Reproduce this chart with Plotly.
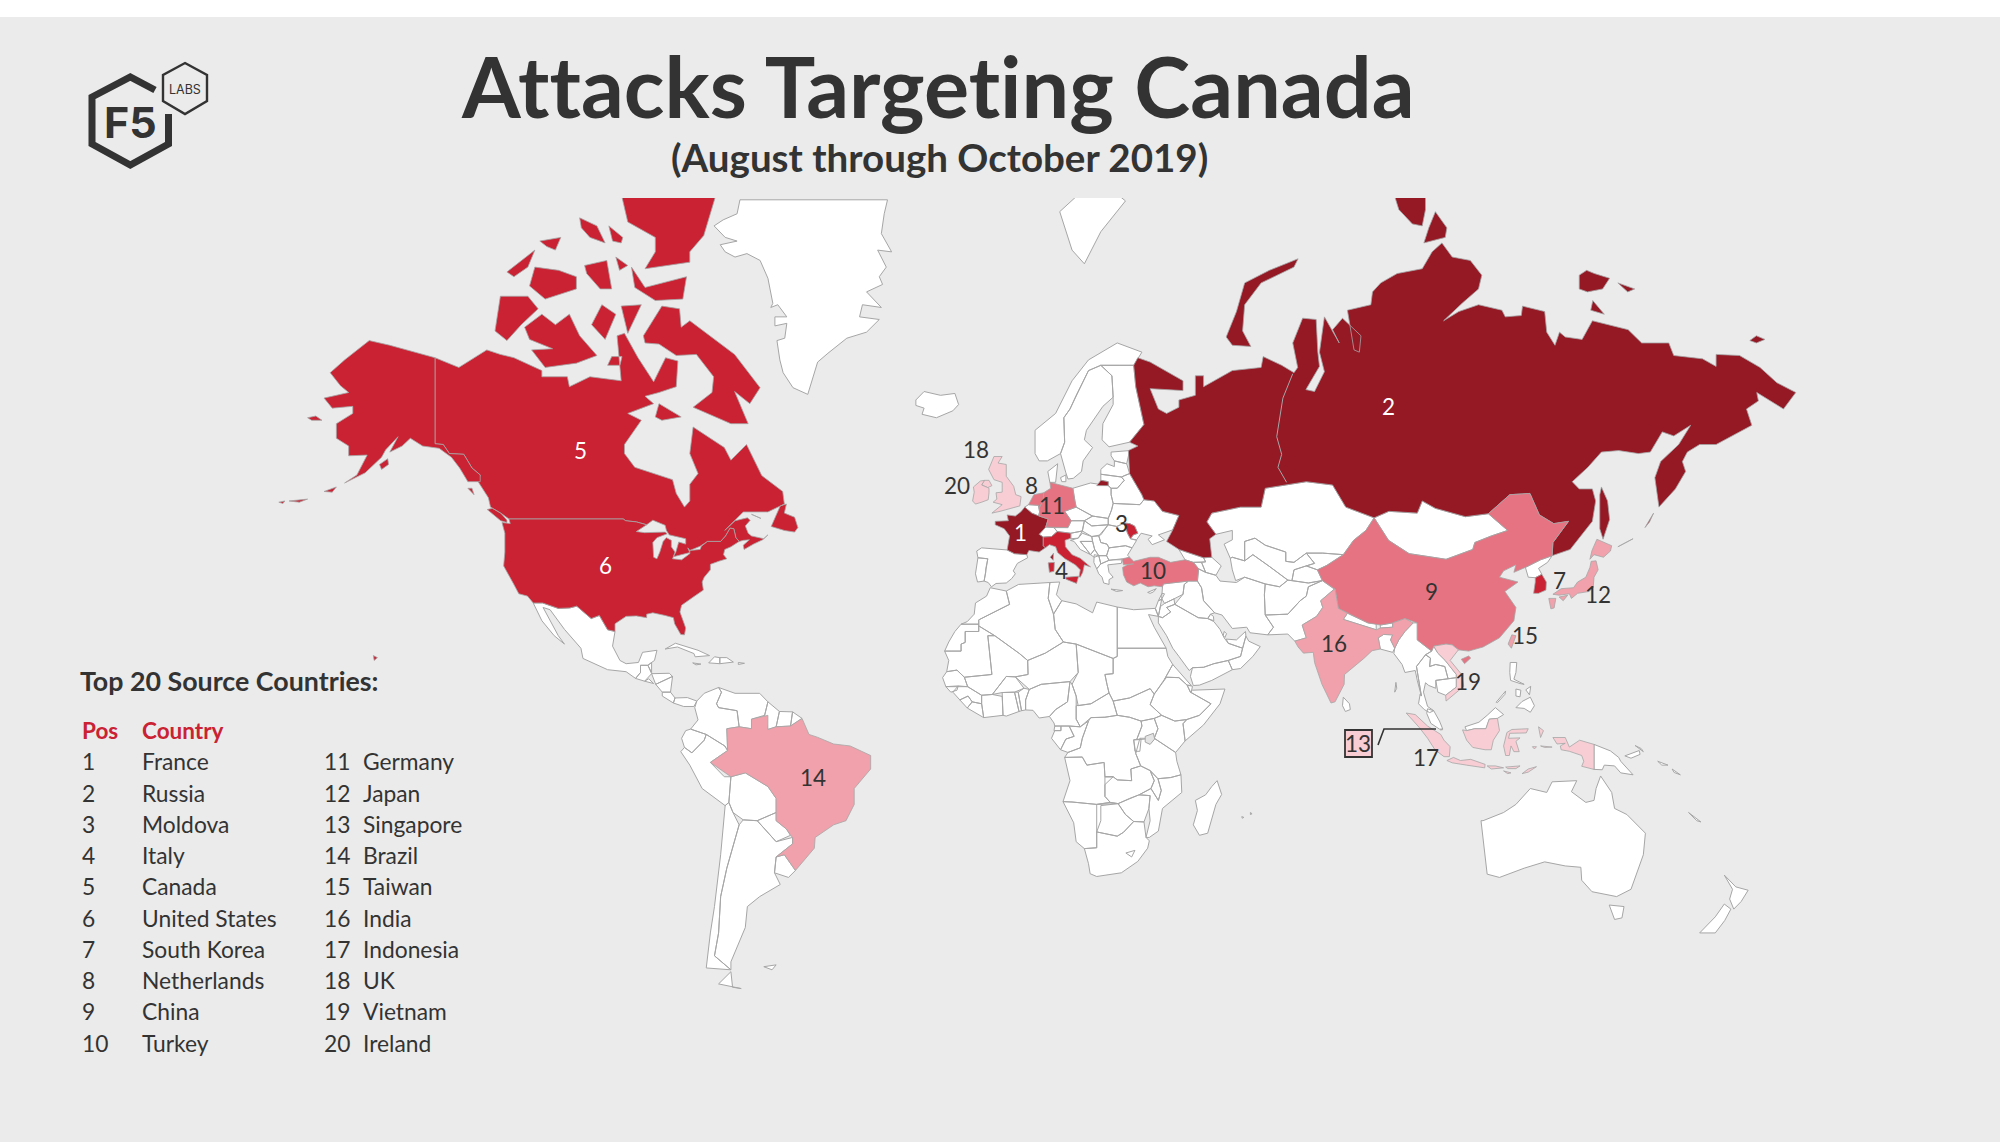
import numpy as np
import plotly.graph_objects as go

# ranking table shown at bottom left
top20 = ["France", "Russia", "Moldova", "Italy", "Canada", "United States", "South Korea",
         "Netherlands", "China", "Turkey", "Germany", "Japan", "Singapore", "Brazil", "Taiwan",
         "India", "Indonesia", "UK", "Vietnam", "Ireland"]
positions = list(range(1, 21))
rank_colors = ["#951825", "#951825", "#CA2233", "#CA2233", "#CA2233", "#CA2233", "#CA2233",
               "#E57381", "#E57381", "#E57381", "#E57381", "#F0A1AB", "#F8CDD4", "#F0A1AB", "#F0A1AB",
               "#F0A1AB", "#F8CDD4", "#F8CDD4", "#F8CDD4", "#F8CDD4"]

# country outlines as (lon, lat) rings
france = [[(2.5,51),(4.2,50),(6,49.5),(8.2,49),(7.6,47.6),(6,46.3),(7,45.8),(7,44.2),(7.5,43.8),(6,43),(3.5,43.3),(3,42.5),(0,42.7),(-1.8,43.4),(-1.2,46),(-2.5,47.3),(-4.7,48),(-4.7,48.6),(-1.5,48.7),(-1.8,49.7),(0.2,49.5),(1.5,50.2)],
          [(8.7,42),(9.5,42.8),(9.4,41.4)]]
russia = [[(30,69.7),(33,69.3),(41,67.5),(41,66.5),(33,66.7),(35,64.5),(37,64),(40,64.7),(40,65.5),(44,66),(44,68),(46,68),(46,66.9),(53,68.5),(60,68.8),(60.5,69.8),(65,69),(68,68.3),(68.9,68.8),(67.7,71),(70.1,73),(73.4,72.9),(73.8,70.2),(74.2,68.9),(70.9,66.6),(73,66.4),(75.4,68.4),(74.2,70.2),(75.4,73.1),(79,71),(77.4,72.1),(79.8,73),(84.3,71.6),(83.9,70.2),(82.6,70.4),(81,73.6),(86.7,74),(87.1,74.9),(89.1,75.5),(93.1,76.1),(99.2,76.4),(101.6,77.4),(104,77.9),(106.5,77.1),(110.9,76.9),(113.7,76),(112.9,75.1),(108.9,74.1),(104.4,72.8),(108.1,73.5),(112.9,74),(118.6,73.6),(119.4,73.1),(123.3,73.2),(123.6,73.9),(129,73.5),(129.5,71.9),(131.5,70.8),(132.6,71.9),(134,71.5),(138.1,71.3),(140.6,72.8),(149.3,72.1),(152.6,71),(159.2,71),(160.4,69.9),(167.4,69.6),(170.7,68.9),(170.7,70),(176.4,69.9),(181.4,68.8),(185.5,67.3),(190.1,66.3),(187.1,64.5),(180.6,66.3),(181,65.4),(178.1,64.5),(179.4,62.6),(170.7,60.2),(166.7,60.2),(163.7,59.2),(162.5,57.9),(163.3,56.5),(160.8,53.9),(156.8,51),(155.8,55.6),(157.2,57.9),(161.6,60.2),(164.5,62.6),(160.4,61.3),(157.6,61.8),(154.7,59.2),(151.8,59),(147,59.4),(142.8,59.2),(139.5,57.1),(135.7,55),(137.4,53.9),(140.6,53.9),(141.4,52),(140.6,48.6),(135.2,43.5),(130.8,42.3),(131,44.8),(134.8,48.6),(131.2,48.2),(127.7,49.7),(125.4,53.2),(120.5,53),(115.3,49.9),(109.7,49.4),(102.4,50.8),(99.2,52),(98,50),(91.1,50.3),(87.5,49.2),(80.6,51),(77.4,54.5),(71,55),(61,54),(60,51),(55,51),(48,50),(46.8,48.5),(49,46.3),(47.5,45.5),(48,42),(46,41.9),(40,43.5),(37,45),(38.5,47.1),(40,49.6),(36,50.3),(34,52),(31.5,52.2),(31,53),(28,56.2),(27.7,59.4),(30,60),(28,60.5),(31.5,62.7),(29.5,66.9),(29,69)],
          [(51.5,71.5),(53,70.8),(57.5,70.7),(55.5,72),(56,74),(60,75.5),(68,76.5),(69,77),(62,76.3),(56,75.5),(54,73.5),(52,72)],
          [(92,80.5),(100,80.5),(100,79.6),(99.2,78.8),(96.8,78.9),(93.5,79.6)],
          [(102.4,79.5),(105.2,78.7),(104.8,78.2),(99.6,77.9),(100.8,78.7)],
          [(137.4,76),(139.2,76.3),(141.1,76.1),(144.8,75.8),(143.1,75.1),(139.4,74.9),(137.4,75.1)],
          [(146.8,75.5),(150.9,75.1),(149.2,74.9)],
          [(140.2,73.6),(143.5,73.3),(140.7,74.3)],
          [(178.9,71.2),(180.5,71.6),(182.6,71.3),(180.5,71)],
          [(142.8,54.2),(144.3,52),(144.8,48.9),(143.2,45.4),(142.4,47.3),(142.4,53)],
          [(20,54.4),(22.8,54.4),(22.8,55),(21,55.2)],
          [(146.8,44),(150.5,45.5),(148.3,44.5)],
          [(153.4,47.5),(155.5,50),(154.5,48.5)]]
russia_seam = [(67.7,68.2),(65.3,65.7),(63.8,61.2),(65,58.9),(64.1,57.1),(66.2,54.9)]
moldova = [[(26.7,48.3),(28,48.2),(29.2,47.8),(30,46.5),(28.9,46.2),(28.2,45.5),(27.5,46.5)]]
italy = [[(7,44.2),(7,45.8),(9,45.9),(10.4,46.8),(13.7,46.5),(13.7,45.6),(12.3,45.2),(12.4,44),(14,42.5),(16,41.8),(18.5,40.1),(17,40.5),(16.6,39),(16,38),(15.7,38.1),(16,39.5),(14.8,40.5),(12.3,41.7),(10.5,42.9),(10,44),(8.5,44.4),(7.5,43.8)],
         [(12.5,38),(15.6,38.2),(15.1,36.7),(12.5,37.6)],
         [(8.2,40.9),(9.7,41),(9.6,39.2),(8.5,39)]]
canada = [[(-141,69.7),(-135.2,68.8),(-128.4,70.4),(-125.1,70),(-121.8,69.7),(-115,68.5),(-115,67.9),(-108.8,67.9),(-108.3,66.9),(-103.3,67.9),(-95.7,67.5),(-96.7,71.6),(-94.9,71.8),(-91.6,69.7),(-87.8,67.4),(-84.9,69.7),(-81.9,69.4),(-82.3,66.9),(-86.5,66.3),(-89.9,65.9),(-87.8,65.1),(-94.1,64),(-90.8,63.2),(-94.9,60.2),(-94.9,59),(-92.4,57.1),(-83.2,55.3),(-82.3,53.2),(-80.3,51),(-79,52),(-79,54.6),(-77,56.2),(-79,59),(-78.2,62.4),(-70.6,59.8),(-69,58.1),(-65.2,60.2),(-61.5,55.9),(-56.4,53.5),(-56,51.5),(-60,50.2),(-66,50.2),(-70.5,47),(-68,48.7),(-65,49.2),(-64.3,48.8),(-65.5,47.8),(-64.8,46.5),(-64,46),(-61,45.5),(-60,46.2),(-61.3,45.3),(-63.5,44.5),(-65.8,43.5),(-66,44.3),(-64.5,45.3),(-66,45.2),(-67,45),(-67.8,45.7),(-68.3,47.3),(-69.2,47.4),(-70.3,46),(-71.5,45),(-74.7,45),(-76.5,44.1),(-79,43.3),(-79.5,43.8),(-79,42.9),(-83,42.1),(-82.4,43),(-81.7,44.9),(-80,44.5),(-80,45.5),(-84,46.2),(-84.7,47),(-85,47.9),(-88,48.8),(-89.5,48),(-92,48.5),(-94.6,48.7),(-95.2,49),(-123,49),(-125,50),(-127.5,51),(-128,52.5),(-130,54.5),(-130.5,55),(-130,56),(-132,57),(-134,58.9),(-137.5,59),(-139,60.2),(-141,60.3)],
          [(-123.5,48.4),(-125,48.7),(-128.3,50.6),(-127,50.8),(-125,50),(-123.5,48.8)],
          [(-132,54),(-131.5,53),(-133,54)],
          [(-59.2,47.7),(-58.4,49),(-57,51.2),(-55.5,51.5),(-56,50),(-53.5,49.3),(-52.7,47.5),(-53.5,46.7),(-56,47)],
          [(-90.3,71.6),(-85.8,73.9),(-81.5,73.7),(-81.1,72.3),(-79,72.8),(-74.9,71.8),(-68.1,70),(-61.9,66.8),(-64.4,65.1),(-68.1,66.4),(-64.8,62.8),(-69,62.8),(-78.2,64.7),(-73.6,66.3),(-73.2,67.9),(-77.4,70),(-82.3,69.9),(-86.5,70.9),(-89.9,71)],
          [(-119.2,72.3),(-115,73.3),(-111.7,72.5),(-108.3,73.3),(-105.8,71.6),(-101.6,69.9),(-106.6,69.2),(-114.2,68.8),(-117.5,70.4),(-112.4,70.5),(-118,71.3)],
          [(-125.1,74.6),(-118.4,74.6),(-115.9,73.7),(-120,72.5),(-123.5,71.2),(-126.4,72)],
          [(-118,75.3),(-116.7,76.5),(-110.9,76.3),(-106.6,75.9),(-106.6,75.1),(-114.2,74.4)],
          [(-96.6,81),(-71.4,81),(-75.6,78.3),(-79,77.4),(-79,76.8),(-89.9,76.4),(-87.4,77.4),(-87.4,78.2),(-94.1,79)],
          [(-93.2,76.5),(-89.9,75.2),(-79.8,75.9),(-80.7,74.4),(-87.4,74.3),(-92.4,75.2)],
          [(-95.7,73.9),(-90.8,74),(-94.1,71.8)],
          [(-102.9,72.5),(-100.4,74),(-97,73.3),(-99.6,71.3)],
          [(-123.5,76.2),(-116.7,77.5),(-118.4,76.5),(-121.8,75.9)],
          [(-115.5,78),(-110.4,78.2),(-111.7,77.5),(-113.8,77.7)],
          [(-105.8,79.2),(-101.6,78.8),(-99.6,77.9),(-103.3,78.2),(-105.4,78.7)],
          [(-98.7,78.8),(-95.3,78.2),(-95.7,77.9),(-97.8,78)],
          [(-104.6,76.6),(-99.2,76.9),(-98,75.1),(-100.8,75.1),(-104.1,76.1)],
          [(-97,77.1),(-94.1,76.6),(-96.1,76.3)],
          [(-87.4,63.6),(-86.5,65.1),(-81.1,63.6),(-85.8,63.2)],
          [(-99,69),(-96,69),(-95.5,69.8),(-98,69.8)],
          [(-64,49.8),(-62,49.2),(-61.7,49.1)]]
usa = [[(-123,49),(-95.2,49),(-94.6,48.7),(-92,48.5),(-89.5,48),(-92,46.8),(-90,46.6),(-87.5,46.6),(-85,46.7),(-84.5,46.4),(-87,45.7),(-88,44.8),(-87.8,42),(-87,41.7),(-86.3,43),(-85.5,45),(-84.7,45.7),(-83.5,45.2),(-83.5,44),(-82.6,43),(-83,42),(-83.2,41.7),(-81,41.5),(-79,42.7),(-79,43.3),(-76.5,43.5),(-76.2,44.1),(-74.7,45),(-71.5,45),(-70.3,46),(-69.2,47.4),(-68.3,47.3),(-67.8,45.7),(-67,45),(-69,44),(-70.5,43.5),(-70.8,42.5),(-70,41.7),(-72,41.2),(-74,40.6),(-74,39.5),(-75.5,38),(-76,37),(-75.7,35.3),(-78,33.9),(-81,32),(-81.4,30.5),(-80,26.8),(-80.3,25.2),(-81.2,25.3),(-82.7,27.8),(-83,29.2),(-85,29.7),(-88,30.3),(-89.5,30),(-89.5,29.2),(-92,29.6),(-94.5,29.5),(-97.2,27.8),(-97.2,26),(-99,26.4),(-101,29.7),(-103,29),(-106.5,31.8),(-108.2,31.4),(-111,31.3),(-114.8,32.5),(-117.1,32.5),(-118.5,34),(-120.6,34.5),(-122,36.8),(-124.3,40.3),(-124,43),(-124,46.5),(-124.7,48.4),(-122.7,48.2)],
       [(-141,69.7),(-141,60.3),(-139,60.2),(-137.5,59),(-134,58.9),(-132,57),(-130,56),(-130,55),(-133,55),(-135,57),(-137,58.5),(-140,59.7),(-144,60),(-147,61),(-149,60),(-152,59.2),(-150,61.2),(-153,59.5),(-154,58.5),(-158,56.3),(-163,54.8),(-160,56),(-157.5,58.8),(-162,58.7),(-162,60),(-165,61),(-165,62.8),(-161,64),(-161,64.8),(-166,64.6),(-168,65.7),(-162,66.3),(-164,67),(-166.5,68.3),(-163,69.5),(-157,71.2),(-152,70.8),(-146,70.2)],
       [(-154.5,57.5),(-152.5,58.3),(-152.3,57.5),(-154,56.8)],
       [(-172,63.5),(-170,63.7),(-168.5,63.2),(-171,63.2)],
       [(-168,53.5),(-165,54.2),(-166,53.4)],
       [(-176.5,52),(-172,52.3),(-174,51.8)],
       [(-179,51.8),(-177.5,52),(-178,51.6)],
       [(-156,20.2),(-155,19.7),(-155.8,19)]]
south_korea = [[(126.7,37.9),(128.3,38.6),(129.4,37),(129.3,35.3),(127.5,34.6),(126.3,34.6),(126.7,37)]]
netherlands = [[(3.4,51.4),(4.7,53),(7.1,53.3),(7,52.2),(6,50.8),(5.8,51.3)]]
china = [[(73.7,39.5),(76,40.4),(80,42.5),(82.5,45.2),(85.5,47),(87.5,49.2),(91,45.2),(96,42.7),(105,41.6),(111.5,43.5),(112,44.8),(116,46),(120,47),(115.3,49.9),(120.5,53),(125.4,53.2),(127.7,49.7),(131.2,48.2),(134.8,48.6),(131,44.8),(130.8,42.3),(128,41.5),(124.3,40),(121.5,39),(122,40.5),(119,39.3),(118,38),(122.5,37),(119.3,35),(122,31.5),(121.5,28.5),(118,24.5),(114,22.3),(110.5,21.3),(108,21.6),(106.5,22.8),(105,23),(102,22.5),(101.5,21.3),(98,24),(98,28),(95,29),(92,28),(89,27.5),(86,28),(81,30.2),(78.8,31.3),(78,35.5),(74.9,37.3)],
         [(108.7,19.3),(110.5,20.1),(111,19.6),(109.5,18.2)]]
turkey = [[(26.2,41.7),(28,42),(29,41.2),(33,42),(35,42),(38,41),(41.5,41.5),(43.5,41),(44.8,39.7),(44.5,37.2),(42.3,37.2),(38,36.8),(36.2,36.6),(36,36),(34,36.2),(32.5,36),(30.6,36.8),(29,36.2),(27.3,37),(26.5,38.5),(26.3,40),(27.5,40.5),(29,40.7),(26.5,40.5)]]
germany = [[(7.1,53.3),(8.8,54),(8.6,54.9),(11,54.5),(14.2,54),(14.7,52),(15,51),(12.2,50.3),(13.8,48.7),(13,47.5),(7.6,47.6),(8.2,49),(6,49.5),(6.1,50.2),(6,50.8),(7,52.2)]]
japan = [[(131,34.4),(133,35.6),(136,35.8),(137,37),(139,38),(140,40),(140.3,41.2),(141.5,41.3),(142,39.5),(141,38),(140.8,35.8),(139.8,35),(137,34.6),(135.5,33.5),(135,34.5),(132.5,34.2)],
         [(140,41.6),(140.5,43.3),(141.7,45.4),(145.3,44.2),(145,43.2),(143.3,42),(141,42.5)],
         [(130,33.5),(131.7,33.5),(131.3,31.4),(130.5,31.2)],
         [(132.5,33.8),(134.6,34.2),(133.5,33)]]
singapore = [[(103.6,1.2),(104.1,1.45),(104.1,1.2)]]
brazil = [[(-60,5),(-60,1.3),(-58,2),(-54.5,2.2),(-51.7,4.2),(-50,0),(-48,-0.7),(-44,-2.5),(-40,-3),(-35,-5.5),(-35,-9),(-39,-14),(-39,-18),(-41,-22),(-44,-23),(-48.5,-26),(-48.7,-28.5),(-53.3,-33.5),(-56,-30),(-58,-30.5),(-54,-27.5),(-54,-26),(-54.5,-25.5),(-55.5,-24),(-58,-22),(-58,-16.5),(-60,-13.5),(-65.5,-10),(-69,-11),(-74,-7.3),(-69.8,-4.2),(-70,1.5),(-67,2),(-64,1.5),(-64,4)]]
taiwan = [[(120.1,23),(121,25.2),(122,25),(120.9,22)]]
india = [[(68.2,23.7),(71,24.5),(70,27.5),(73.5,29.5),(75,31.5),(74.5,33),(77.8,35.5),(78,35.5),(78.8,31.3),(81,30.2),(80,28.8),(88,26.4),(89,26.8),(92,27),(92,28),(95,29),(97,28),(95,26),(93.5,24),(92.5,22),(91.5,24),(92,25.2),(89.8,25.3),(88.5,24.5),(89,21.8),(87,21.4),(85,19.5),(80.3,15.5),(80.2,13),(78,8.5),(77,8.2),(74.8,13),(73,18.5),(72.7,21),(70.3,20.8),(69,22.3)]]
indonesia = [[(95.3,5.6),(97.5,5.2),(100.5,2.2),(103.7,0),(104.5,-1.5),(106,-3.2),(105.8,-5.8),(104.5,-5.8),(102.3,-4),(100.5,-1),(98.5,1.8)],
             [(105.2,-6.8),(106.8,-6),(108.5,-6.8),(111,-6.5),(114.5,-7.8),(114.4,-8.7),(110,-8),(106.5,-7.4)],
             [(109,1.2),(110,1),(112,1.5),(114.7,1.5),(115.5,4),(117.5,4.2),(118,1),(116.5,-1.5),(116,-4),(114.5,-4),(111.5,-3.4),(110,-1.5)],
             [(119.5,-5.5),(119,-3),(119.8,0.5),(121,1.3),(125,1.5),(124.5,0.4),(120.5,0.3),(120.2,-1),(123,-0.9),(122,-1.8),(122.8,-4.5),(121.5,-4.5),(120.8,-3),(120.4,-5.5)],
             [(115,-8.2),(117,-8.2),(119,-8.7),(116,-9)],
             [(119.5,-8.5),(123,-8.2),(122,-8.9),(120,-8.9)],
             [(123.5,-10.2),(125,-9),(127,-8.4),(125,-9.8)],
             [(119,-9.5),(120.8,-10),(120,-10.2)],
             [(127.5,2),(128.7,1),(128,-0.8),(127.7,0.8)],
             [(128,-3),(130.8,-3.3),(129,-3.4)],
             [(126,-3.2),(127,-3.2),(126.5,-3.8)],
             [(131,-0.8),(134,-0.8),(135,-3.3),(137.5,-1.5),(141,-2.6),(141,-9.1),(138,-8.3),(138.5,-7),(138,-5.5),(135,-4.4),(133,-4),(132.8,-3),(134,-2.3),(132,-2.5)]]
uk = [[(-5.5,50),(-3.5,50.3),(1.3,51.2),(1.6,52.7),(0.3,53),(-0.2,54.3),(-2,55.8),(-2,57.5),(-4,57.7),(-3,58.6),(-5,58.6),(-6.3,56.8),(-5,55.3),(-3,54.9),(-3,53.4),(-4.5,53.3),(-4.3,52.3),(-5.2,51.8),(-3,51.4)],
      [(-5.5,54.4),(-6.2,55.2),(-7.3,55.2),(-8,54.5),(-6.5,54.1)]]
vietnam = [[(102,22.5),(105,23),(106.5,22.8),(108,21.6),(106,19),(108.8,15.5),(109.3,12.5),(107,10.4),(105,8.7),(104.9,10.2),(106,11),(107.5,12.3),(107.5,15.5),(104.8,19),(103,20.8)]]
ireland = [[(-6.2,53.3),(-6.2,54),(-6.5,54.1),(-8,54.5),(-7.3,55.2),(-8.3,55.1),(-10,54.2),(-9.8,53.4),(-10.2,52),(-9.5,51.5),(-8,51.8),(-6.4,52.2)]]
ranked_shapes = [france, russia, moldova, italy, canada, usa, south_korea, netherlands, china, turkey,
                 germany, japan, singapore, brazil, taiwan, india, indonesia, uk, vietnam, ireland]

# everything outside the top 20 stays white
greenland = [(-66.8,80.05),(-67.5,79.4),(-70.9,79.1),(-73.1,78.8),(-70.4,78.2),(-67.5,78),(-71.6,77.8),(-70.4,77.4),(-68,77.1),(-65.1,77.3),(-61.9,76.9),(-60,75.8),(-58.8,74.1),(-59.3,73.8),(-57.6,74),(-55.4,73.1),(-58.3,73.1),(-58.3,72.4),(-55.4,72.6),(-55.9,71.4),(-57.8,71.2),(-57.1,69.5),(-56.3,68.3),(-53.9,66.8),(-50.3,66.1),(-49.1,67.8),(-47.9,69.3),(-45.4,70.1),(-41.8,71.1),(-40.8,71.4),(-36,71.9),(-32.9,72.9),(-37.7,73.1),(-37,74),(-32.4,73.8),(-36,74.9),(-32.1,75.4),(-32.9,75.9),(-31.2,76.5),(-33.3,77.5),(-29.9,77.4),(-32.4,78.4),(-31.7,79.4),(-30.9,80.05)]
americas_other = [
    greenland,
    [(-117.1,32.5),(-114.8,32.5),(-111,31.3),(-108.2,31.4),(-106.5,31.8),(-103,29),(-101,29.7),(-99,26.4),(-97.2,26),(-97.8,22.5),(-96,19),(-94.5,18.2),(-91.5,18.5),(-90.5,21),(-87,21.5),(-87.6,19),(-88.3,18.5),(-89.2,17.8),(-91,17.8),(-91,16),(-92.2,14.5),(-94.5,16.2),(-99,16.7),(-105,19.5),(-105.5,22),(-109.5,26.5),(-113,31),(-114.7,31.5),(-111,25),(-109.5,23),(-112,25),(-115,28.5)],
    [(-92.2,14.5),(-91,16),(-91,17.8),(-89.2,17.8),(-88.3,15.7),(-90,13.8)],
    [(-89.2,17.8),(-88.3,18.5),(-88.3,16)],
    [(-88.3,15.7),(-84,15.8),(-83.2,15),(-87.3,13)],
    [(-87.3,13),(-83.2,15),(-83.7,11),(-85.7,11)],
    [(-90,13.8),(-89,14.4),(-87.8,13.2)],
    [(-85.7,11),(-83.7,11),(-82.6,9.5),(-83,8.2),(-85.7,10)],
    [(-83,8.2),(-82.6,9.5),(-79.6,9.6),(-77.3,8.7),(-78,7.3),(-80.5,7.3)],
    [(-85,21.8),(-82.5,23.2),(-77,21.5),(-74.2,20.2),(-77.7,19.9),(-78,20.7),(-82,22.3)],
    [(-74.4,18.4),(-73,19.9),(-71.7,19.7),(-71.7,18.2)],
    [(-71.7,19.7),(-70,19.7),(-68.4,18.6),(-71.7,18.2)],
    [(-78.3,18.4),(-76.3,18.1),(-77.5,17.9)],
    [(-67.2,18.5),(-65.7,18.3),(-67.2,18)],
    [(-77.3,8.7),(-75.5,10.7),(-72,12.2),(-71.3,11),(-72.5,8),(-72,7),(-67.5,6.2),(-67,2),(-70,1.5),(-69.8,-4.2),(-70.5,-3),(-75,0),(-78.8,1.4),(-77,3.8),(-77.8,7)],
    [(-71.3,11),(-72,12.2),(-68,10.7),(-62,10.7),(-60,8.5),(-60.8,5),(-64,4),(-64,1.5),(-67,2),(-67.5,6.2),(-72,7),(-72.5,8)],
    [(-60,8.5),(-57.2,6),(-58,2),(-60,1.3),(-60.8,5)],
    [(-57.2,6),(-54,5.9),(-54.5,2.2),(-58,2)],
    [(-54,5.9),(-51.7,4.2),(-54.5,2.2)],
    [(-80,1),(-78.8,1.4),(-75,0),(-75.5,-1.5),(-78.5,-4.8),(-80.3,-3.4),(-81,-1)],
    [(-81.2,-4.5),(-80.3,-3.4),(-78.5,-4.8),(-75.5,-1.5),(-75,0),(-70.5,-3),(-69.8,-4.2),(-74,-7.3),(-70.6,-11),(-69,-11),(-69.5,-17.5),(-70.4,-18.3),(-76,-14),(-79,-8)],
    [(-69,-11),(-65.5,-10),(-60,-13.5),(-58,-16.5),(-58,-20),(-62.6,-22),(-66,-21.8),(-68.5,-20),(-69.5,-17.5)],
    [(-70.4,-18.3),(-69.5,-17.5),(-68.5,-20),(-67,-23),(-70,-33),(-71.5,-39),(-72,-46),(-73,-50),(-69,-52.3),(-75,-52),(-74,-46),(-73,-41),(-71.5,-30)],
    [(-69,-52.6),(-68.6,-55),(-66.5,-55.2),(-72,-54.5)],
    [(-66,-21.8),(-62.6,-22),(-58,-27),(-54,-26),(-54,-27.5),(-58,-30.5),(-58.4,-34),(-57,-36.5),(-62,-39),(-65,-41),(-65.5,-45),(-69,-51),(-69,-52.3),(-73,-50),(-72,-46),(-71.5,-39),(-70,-33),(-67,-23)],
    [(-62.6,-22),(-58,-20),(-58,-22),(-55.5,-24),(-54.5,-25.5),(-58,-27)],
    [(-58,-30.5),(-56,-30),(-53.3,-33.5),(-55,-35),(-58.4,-34)],
    [(-61,-51.8),(-58,-51.5),(-59,-52.3)],
]
europe_other = [
    [(-24,65.5),(-22,66.4),(-18,66),(-14.5,66.2),(-13.6,65),(-15,64.3),(-19,63.5),(-22.5,63.9),(-22,64.6),(-24,64.9)],
    [(11,79.5),(14,77.5),(17,76.7),(21,78.5),(27,80),(20,81)],
    [(-1.8,43.4),(0,42.7),(3,42.5),(3.2,41.9),(0.7,40.8),(-0.3,39.3),(0.2,38.7),(-0.7,37.7),(-2,36.8),(-4.5,36.7),(-5.6,36),(-6.4,36.9),(-7.4,37.2),(-7,39),(-7,39.7),(-6.5,41.7),(-8.9,41.9),(-9.2,43.2),(-8,43.8)],
    [(-8.9,41.9),(-6.5,41.7),(-7,39.7),(-7,39),(-7.4,37.2),(-9,37),(-9.5,38.7)],
    [(2.5,51),(3.4,51.4),(5.8,51.3),(6.1,50.2),(5.8,49.5),(4.2,50)],
    [(6,46.3),(7.6,47.6),(9.6,47.5),(10.4,46.8),(9,45.9),(7,45.8)],
    [(9.6,47.5),(13,47.5),(13.8,48.7),(17,48.7),(16.5,46.9),(13.7,46.5),(10.4,46.8)],
    [(8.6,54.9),(8.1,56.5),(10.5,57.6),(10.3,56),(10,54.9)],
    [(11.2,55.6),(12.5,56),(12.5,55),(11.5,55)],
    [(5,59),(5,62),(10,64),(14,67.5),(18,69.5),(25,71),(31,70.2),(29,69),(25.5,69),(21,69),(18,68.5),(15,66),(13.5,64.5),(12,63.5),(12.2,60.5),(11.2,59),(8,58),(6,58)],
    [(11.2,59),(12.2,60.5),(12,63.5),(13.5,64.5),(15,66),(18,68.5),(21,69),(23.7,68),(24,65.8),(21.5,64.8),(17.5,62),(17,60.8),(19,59.8),(16.7,58),(16.3,56.5),(14.3,55.5),(13,55.4),(12.5,56.3)],
    [(21,69),(25.5,69),(29,69),(29.5,66.9),(31.5,62.7),(28,60.5),(23,59.9),(21.3,60.8),(21.5,62.8),(24,65),(24,65.8),(23.7,68)],
    [(23.5,59.2),(28,59.4),(27.3,57.6),(24.3,58),(23.5,58.7)],
    [(21,56.8),(22.5,57.6),(24.3,57.2),(24.3,58),(27.3,57.6),(28,56.2),(26,55.7),(21,56.1)],
    [(21,56.1),(26,55.7),(26.7,55.2),(25,54),(23.5,54),(22.8,54.4),(22.8,55),(21,55.2)],
    [(28,56.2),(31,53),(31.5,52.2),(30.5,51.4),(24,51.6),(23.5,53),(23.5,54),(25,54),(26.7,55.2),(26,55.7)],
    [(14.2,54),(18.5,54.8),(22.8,54.4),(23.5,54),(23.5,53),(24,51.6),(23.6,50.5),(22.8,49.1),(19,49.5),(15,51),(14.7,52)],
    [(24,51.6),(30.5,51.4),(31.5,52.2),(34,52),(36,50.3),(40,49.6),(38.5,47.1),(35,46.2),(36.5,45.3),(33.5,44.4),(32.5,45.4),(33.5,46),(30.8,46.5),(29.7,45.3),(28.2,45.5),(28.9,46.2),(30,46.5),(29.2,47.8),(28,48.2),(26.7,48.3),(24.9,47.7),(22.8,48),(22.8,49.1),(23.6,50.5)],
    [(12.2,50.3),(15,51),(19,49.5),(17,48.7),(13.8,48.7)],
    [(17,48.7),(19,49.5),(22.8,49.1),(22.8,48),(18.8,47.8)],
    [(16.5,46.9),(17,48.7),(18.8,47.8),(22.8,48),(21,46.2),(18.8,45.9)],
    [(20.5,46),(22.8,48),(24.9,47.7),(26.7,48.3),(27.5,46.5),(28.2,45.5),(29.7,45.2),(28.6,43.8),(27,44.2),(23,43.8),(22.5,44.5),(21,44.8)],
    [(23,43.8),(27,44.2),(28.6,43.8),(27.5,42.4),(28,42),(26.2,41.5),(24,41.5),(23,41.4),(22.4,42.3)],
    [(13.7,46.5),(16.5,46.9),(15.5,45.6),(13.7,45.5)],
    [(13.6,45.2),(15.5,45.6),(16.5,46.5),(18.8,45.9),(19,45),(16,45),(18.5,42.5),(16,43.5),(14.5,45)],
    [(16,45),(19,45),(19.5,43.5),(18.5,42.5)],
    [(18.8,45.9),(20.5,46),(21,44.8),(22.5,44.5),(23,43.8),(22.4,42.3),(20.5,42.3),(19.5,43.5),(19,45)],
    [(18.5,42.5),(19.5,43.5),(20.5,42.3),(19.4,42)],
    [(19.4,42.5),(20.5,42.3),(21,40.7),(20,39.7),(19.3,41)],
    [(20.5,42.3),(22.4,42.3),(23,41.4),(21,40.7)],
    [(20,39.7),(21,40.7),(23,41.4),(24,41.5),(26.2,41.7),(26,40.8),(23.5,40.5),(22.7,40.5),(23,39),(24,38),(23,37.5),(23,36.5),(21.7,36.8),(21.3,38),(20.5,38.7)],
    [(23.5,35.5),(26.3,35.2),(24.8,35)],
    [(32.4,34.8),(34.5,35.6),(33.8,34.9),(33,34.6)],
]
asia_other = [
    [(40,43.5),(46,41.9),(46.5,41.1),(43.5,41),(41.5,41.5)],
    [(43.5,41),(45.5,41),(46.5,39),(44.8,39.7)],
    [(46,41.9),(48,42),(50.3,40.3),(49,38.4),(46.5,39),(45.5,41),(46.5,41.1)],
    [(46.8,48.5),(48,50),(55,51),(60,51),(61,54),(71,55),(77.4,54.5),(80.6,51),(87.5,49.2),(85.5,47),(82.5,45.2),(80,42.5),(75,42.8),(71,42.8),(68,41),(66,41.2),(66,43),(61,44.3),(58.5,45.6),(56,45),(56,41.3),(53,42),(52.5,41.8),(51,44.5),(53,45.3),(53,47),(49,46.3)],
    [(56,45),(58.5,45.6),(61,44.3),(66,43),(66,41.2),(68,41),(71,42.8),(73,40.8),(71,40.3),(68,39.5),(67.5,37.3),(66.5,37.4),(62,40.2),(58,42.5),(56,41.3)],
    [(52.5,41.8),(53,42),(56,41.3),(58,42.5),(62,40.2),(66.5,37.4),(64.5,36),(61,36.6),(56,38),(53.8,37.3),(53,39.5)],
    [(71,42.8),(75,42.8),(80,42.5),(76,40.4),(73.7,39.5),(71,40.3),(73,40.8)],
    [(68,39.5),(71,40.3),(73.7,39.5),(74.9,37.3),(71.5,36.8),(67.5,37.3)],
    [(61,36.6),(64.5,36),(66.5,37.4),(67.5,37.3),(71.5,36.8),(74.9,37.3),(71.5,36),(71,34),(69.5,33),(66.5,30),(61,29.8),(60.8,34.3)],
    [(61,29.8),(66.5,30),(69.5,33),(71,34),(71.5,36),(74.9,37.3),(77.8,35.5),(74.5,33),(75,31.5),(73.5,29.5),(70,27.5),(71,24.5),(68.2,23.7),(66.5,25.4),(61.6,25.2),(63,27)],
    [(44.5,37.2),(44.8,39.7),(46.5,39),(49,38.4),(50,37.2),(54,36.9),(56,38),(61,36.6),(60.8,34.3),(61,29.8),(63,27),(61.6,25.2),(57.3,25.7),(56.5,27),(53,26.7),(50.5,29.8),(48.7,30.3),(46,33),(45.5,35.8)],
    [(42.3,37.2),(44.5,37.2),(45.5,35.8),(46,33),(48.7,30.3),(47.7,30),(47,29),(44.7,29.2),(39,32.2),(41,34.4),(41.3,36.5)],
    [(36,36),(36.2,36.6),(38,36.8),(42.3,37.2),(41.3,36.5),(41,34.4),(38.8,33.4),(36.5,32.4),(35.8,33.5)],
    [(36.5,32.4),(38.8,33.4),(39,32.2),(37,31.5),(38,30.5),(36,29.2),(35,29.5),(35.5,31.7)],
    [(34.3,31.3),(35,33),(35.8,33.3),(35.5,31.7),(35,29.5)],
    [(35,33),(35.9,34.6),(36.5,34.5),(35.8,33.3)],
    [(35,29.5),(36,29.2),(38,30.5),(37,31.5),(39,32.2),(44.7,29.2),(47,29),(48.5,28.3),(50,26.5),(51,24.5),(52,23.2),(55.5,22),(55,20),(52,19),(48.5,18.2),(46,17.3),(43.3,17.2),(42.5,16.5),(40,20),(38.5,22),(37,25),(35,28)],
    [(42.8,15),(43.3,17.2),(46,17.3),(48.5,18.2),(52,19),(53,16.7),(48,14),(45,12.8),(43.5,12.7)],
    [(52,19),(55,20),(55.5,22),(56.3,24.9),(57,23.7),(59.8,22.4),(58,20),(55,17),(53,16.7)],
    [(51.5,24.2),(54,24),(56.2,26),(56.3,24.9),(55.5,22),(52,23.2)],
    [(50.8,25),(51,26),(51.6,25.5),(51.2,24.6)],
    [(47.7,30),(48.4,29.5),(48.5,28.5),(47,29)],
    [(87.5,49.2),(91.1,50.3),(98,50),(99.2,52),(102.4,50.8),(109.7,49.4),(115.3,49.9),(120,47),(116,46),(112,44.8),(111.5,43.5),(105,41.6),(96,42.7),(91,45.2)],
    [(80,28.8),(81,30.2),(86,28),(88,27.8),(88,26.4)],
    [(89,27.5),(92,28),(92,27),(89,26.8)],
    [(88.5,24.5),(89.8,25.3),(92,25.2),(91.5,24),(92.5,22),(92,21),(89,21.8)],
    [(80,9.7),(81.5,8),(81.7,6.5),(80.5,6),(79.8,7.5)],
    [(92.5,22),(93.5,24),(95,26),(97,28),(98,28),(98,24),(101.5,21.3),(100,20.4),(97.8,17.5),(98.5,13),(99,10),(98,14),(97.5,16.5),(95,16),(94.3,18),(92.3,20.7)],
    [(97.8,17.5),(100,20.4),(101.2,19.6),(101,17.5),(102.5,18),(104.7,17.5),(105.5,14.4),(102.5,14),(102.5,12),(100.8,12.7),(100,13.4),(99.5,11),(100.5,7.3),(102,6.2),(101,5.7),(99.7,6.5),(98.3,8),(98.7,10.5),(99,10),(98.5,13)],
    [(100,20.4),(101.5,21.3),(102,22.5),(103,20.8),(104.8,19),(107.5,15.5),(107.5,14.7),(105.5,14.4),(104.7,17.5),(102.5,18),(101,17.5),(101.2,19.6)],
    [(102.5,14),(105.5,14.4),(107.5,14.7),(107.5,12.3),(106,11),(104.9,10.2),(103,11)],
    [(100.5,6.7),(102,6.2),(103.4,3.5),(104.2,1.4),(103.4,1.4),(101.3,2.9),(100.3,5.5)],
    [(109.6,2),(111.3,2.7),(113,3.2),(115,5),(117,7),(119,5.2),(117.5,4.2),(115.5,4),(114.7,1.5),(112,1.5),(110,1)],
    [(141,-2.6),(145,-4.3),(147,-6),(147.5,-7),(150.5,-10.5),(147.5,-10),(146,-8.2),(143.5,-8),(143,-9.2),(141,-9.1)],
    [(148.5,-5.6),(152,-4.2),(152.2,-5.2),(150,-6.2)],
    [(151,-2.9),(153,-4.5),(152.5,-3.7)],
    [(156.5,-7),(159,-8),(157.5,-8)],
    [(160,-9),(162,-10.5),(160.5,-9.9)],
    [(120.5,16),(120.6,18.5),(122.2,18.5),(122,16),(121.5,14.3),(124,13),(123,13.2),(120.7,14)],
    [(122,7),(123.5,8.6),(125.5,9.7),(126.5,7.5),(125.5,5.8),(124,6.8)],
    [(117.2,8.4),(119.5,11.3),(119.3,10.4),(117.5,8.3)],
    [(122,11.8),(123.2,11.5),(123,9.8),(122,10)],
    [(124.4,11.6),(125.6,12.5),(125.3,10.3)],
    [(124.3,40),(128,41.5),(130.8,42.3),(129.7,41),(127.5,39.8),(128.3,38.6),(126.7,37.9),(125,38)],
    [(92.8,13.5),(93,12),(92.5,11)],
]
africa_other = [
    [(-5.9,35.8),(-2,35.1),(-1.2,32.2),(-5,30.5),(-8.7,28.7),(-8.7,27.7),(-13,27.7),(-11.5,28.3),(-9.8,30),(-9.5,32.5),(-6.8,34)],
    [(-13,27.7),(-8.7,27.7),(-8.7,26),(-12,26),(-12,23.4),(-13,23),(-13,21.3),(-17,21.3),(-16,23.5),(-14.5,26)],
    [(-17,21.3),(-13,21.3),(-13,23),(-12,23.4),(-12,26),(-8.7,26),(-8.7,27.3),(-4.8,25),(-6.5,25),(-5.5,15.5),(-12.2,14.8),(-14,16.6),(-16.5,16.2),(-16,19)],
    [(-8.7,28.7),(-5,30.5),(-1.2,32.2),(-2,35.1),(1,36.5),(8.6,36.9),(8.2,33.5),(9.5,30),(9.9,26.5),(11.9,23.5),(7.5,20.8),(3.2,19),(1.2,20.7),(-4.8,25),(-8.7,27.3)],
    [(8.6,36.9),(11,37),(10.2,34.3),(11.5,33),(9.5,30),(8.2,33.5)],
    [(9.9,26.5),(9.5,30),(11.5,33),(15,32.3),(19,30.3),(20,32.7),(25,31.6),(25,20),(24,19.5),(15,23),(11.9,23.5)],
    [(25,31.6),(29,31),(34.2,31.3),(35,29.5),(32.6,29.9),(34,27),(36.9,22),(25,22)],
    [(24,19.5),(25,20),(25,22),(36.9,22),(37.3,20),(38.5,18),(36.5,14.3),(34,10.5),(33,11.9),(28,9.5),(24,8.7),(23,10.8),(22.5,13),(22,15.5),(24,15.7)],
    [(24,8.7),(28,9.5),(33,11.9),(34,10.5),(33,7.8),(35.8,5),(34,4.2),(30.8,3.5),(28,4.5),(25,5)],
    [(36.5,14.3),(38.5,18),(43,12.7),(42,12.8),(40,14.7),(37,14.8)],
    [(34,10.5),(36.5,14.3),(37,14.8),(40,14.7),(42,12.8),(42.8,11),(47.8,8),(45,5),(41.9,3.9),(39,3.5),(35.8,5),(33,7.8)],
    [(42,12.8),(43.3,12.5),(43,11),(42.8,11)],
    [(42.8,11),(43.3,11.5),(51.2,11.8),(50,8),(46,2.5),(41.5,-1.7),(41,2.8),(41.9,3.9),(45,5),(47.8,8)],
    [(34,4.2),(35.8,5),(39,3.5),(41.9,3.9),(41,2.8),(41.5,-1.7),(39.2,-4.7),(34,-1),(34.9,1.5)],
    [(30.8,3.5),(34,4.2),(34.9,1.5),(34,-1),(29.7,-1.4),(31,2.2)],
    [(29,-1.4),(30.8,-1.2),(30.5,-4.4),(29.3,-4.4)],
    [(30.5,-1),(34,-1),(39.2,-4.7),(39.5,-7),(40.5,-10.5),(38,-11.2),(34.9,-11.5),(33,-9.4),(30.7,-8.2),(29.5,-5)],
    [(33,-9.4),(34.9,-11.5),(35.7,-14.5),(35,-17),(33.2,-14),(34,-12)],
    [(34.9,-11.5),(38,-11.2),(40.5,-10.5),(40.7,-15),(36,-19),(35,-24.5),(32.8,-26),(32,-26),(33,-22),(32.7,-19),(33,-15.8),(30.3,-15.6),(33.2,-14),(35,-17),(35.7,-14.5)],
    [(22,-11),(24,-11),(25,-11.8),(28.5,-12),(28.3,-9),(30.7,-8.2),(33,-9.4),(34,-12),(33.2,-14),(30.3,-15.6),(28,-16.5),(25.2,-17.8),(23.3,-17.5),(22,-16)],
    [(25.2,-17.8),(28,-16.5),(30.3,-15.6),(33,-15.8),(32.7,-19),(31.5,-22.3),(29,-22.2),(27,-20.5)],
    [(20,-18),(23.3,-17.8),(25.2,-17.8),(27,-20.5),(29,-22.2),(26.5,-24.8),(25,-25.7),(23,-25.3),(20,-24.7)],
    [(11.8,-17.3),(14,-17.4),(20,-18),(23.3,-17.5),(25.2,-17.8),(23.3,-18),(21,-18.3),(21,-22),(20,-24.7),(20,-28.4),(17,-28.6),(15,-27),(14.4,-22.5)],
    [(11.8,-17.3),(13.5,-12),(12.2,-6),(16.5,-5.9),(17.6,-8),(21.8,-7.3),(22,-11),(24,-11),(22,-13),(22,-16),(23.3,-17.5),(20,-18),(14,-17.4)],
    [(17,-28.6),(20,-28.4),(20,-24.7),(23,-25.3),(25,-25.7),(26.5,-24.8),(29,-22.2),(31.5,-22.3),(32,-26),(32.8,-26.8),(32.4,-28.5),(30,-31.5),(26,-34),(20,-34.8),(18.4,-34.2),(18,-32)],
    [(27.1,-29.6),(29.3,-29),(28.5,-30.5)],
    [(49.3,-12),(50.4,-15.5),(49,-18),(47,-25),(45,-25.5),(43.5,-23),(44.5,-19.5),(44,-17),(46.5,-15.6),(48,-13.5)],
    [(12.2,-6),(13,-4.7),(16,-3.5),(16.5,-1),(18,3.5),(18.6,4.4),(22,4.5),(25,5),(28,4.5),(30.8,3.5),(31,2.2),(29.7,-1.4),(29,-1.4),(29.3,-4.4),(29.5,-5),(30.7,-8.2),(28.3,-9),(28.5,-12),(25,-11.8),(24,-11),(22,-11),(21.8,-7.3),(17.6,-8),(16.5,-5.9)],
    [(11.2,-4),(13,-4.7),(16,-3.5),(16.5,-1),(18,3.5),(16,2),(13.3,2.2),(14.5,-0.5),(12.5,-1.2)],
    [(9,-1),(9.8,1),(11.3,1),(11.3,2.2),(13.3,2.2),(14.5,-0.5),(12.5,-1.2),(11.2,-4)],
    [(9.6,1),(9.8,2.2),(11.3,2.2),(11.3,1)],
    [(8.5,4.7),(9.6,3),(9.8,2.2),(11.3,2.2),(13.3,2.2),(16,2),(15,4),(15,7.5),(15,10),(14,13),(13.5,13.7),(12.9,8.5),(10,6.5)],
    [(2.7,6.4),(4.5,6.3),(6,4.3),(8.5,4.7),(10,6.5),(12.9,8.5),(13.5,13.7),(10,13.3),(6.5,13),(3.6,11.7),(2.7,9)],
    [(0.2,14.9),(3.6,11.7),(6.5,13),(10,13.3),(13.5,13.7),(15.5,16),(15,23),(11.9,23.5),(7.5,20.8),(3.2,19),(3.3,15.5)],
    [(15,23),(24,19.5),(24,15.7),(22,15.5),(22.5,13),(23,10.8),(18.6,8),(15.5,7.5),(15,10),(14,13),(15.5,16)],
    [(15,7.5),(18.6,8),(23,10.8),(24,8.7),(25,5),(22,4.5),(18.6,4.4),(16,2),(15,4)],
    [(-12.2,14.8),(-5.5,15.5),(-6.5,25),(-4.8,25),(1.2,20.7),(3.2,19),(3.3,15.5),(0.2,14.9),(-2,15),(-5.4,10.4),(-8,10.2),(-11.4,12.4)],
    [(-5.4,10.4),(-2,15),(0.2,14.9),(2.3,12),(0,11),(-3,10.9)],
    [(-17.5,14.7),(-16.5,16.2),(-14,16.6),(-12.2,14.8),(-11.4,12.4),(-16.7,12.4)],
    [(-16.7,12.4),(-13.7,12.6),(-14,11.5),(-15.5,11)],
    [(-13.7,12.6),(-11.4,12.4),(-8,10.2),(-8,8),(-10.3,8.5),(-11.3,10),(-13.3,9),(-15,11)],
    [(-13.3,9),(-11.3,10),(-10.3,8.5),(-11.5,6.9)],
    [(-11.5,6.9),(-10.3,8.5),(-8,8),(-7.5,4.4)],
    [(-8,10.2),(-5.4,10.4),(-3,9.9),(-2.8,5),(-7.5,4.4),(-8,8)],
    [(-3,10.9),(0,11),(1.1,6),(-2,4.8),(-2.8,5),(-3,9.9)],
    [(0,11),(0.9,11),(1.7,6.2),(1.1,6)],
    [(0.9,11),(2.3,12),(3.6,11.7),(2.7,9),(2.7,6.4),(1.7,6.2)],
    [(55.3,-21),(55.8,-21.2),(55.4,-21.4)],
    [(57.4,-20),(57.8,-20.3),(57.4,-20.5)],
]
oceania_other = [
    [(113.5,-22),(114,-26),(115,-34.3),(118,-35),(124,-33),(129,-31.6),(134,-32.5),(137.8,-32.8),(138,-35.6),(140.5,-38),(146.5,-39),(150,-37.5),(153,-30),(153.5,-25),(149,-20.5),(146,-19),(145.3,-15),(142.6,-10.8),(141.5,-14),(141,-17),(139,-17.5),(135.5,-14.8),(136.8,-12),(130.8,-12.3),(129.5,-15),(125.5,-14),(122,-18),(119,-20),(114,-22)],
    [(144.7,-40.7),(148.3,-41),(147.8,-43.2),(146,-43.5)],
    [(172.7,-34.5),(175.5,-37),(178.5,-37.7),(176.8,-40),(175,-41.5),(174,-39.5),(174.7,-37.5)],
    [(172.7,-40.5),(174.3,-41.5),(172.8,-43.7),(170.5,-46),(166.7,-46),(170.5,-43)],
    [(164,-20),(167,-22.3),(166,-22)],
]
lakes = [[(31.8,-0.5),(33.8,0.3),(34.1,-1.2),(33,-2.6),(31.8,-2)]]

# picture scale: pixels per degree of longitude / per mercator unit
W, H = 2000, 1142
LON_PX = 4.11
MERC_PX = 219.0
MAP_TOP = 198


def merc(lat):
    return np.log(np.tan(np.pi / 4 + np.asarray(lat, dtype=float) * np.pi / 360))


def xy(rings):
    xs, ys = [], []
    for ring in rings:
        closed = list(ring) + [ring[0]]
        xs += [p[0] for p in closed] + [None]
        ys += [float(merc(p[1])) for p in closed] + [None]
    return xs, ys


def fx(px):
    return px / W


def fy(py):
    return 1 - py / H


def path(points, close=False):
    d = "M " + " L ".join(f"{fx(a):.5f},{fy(b):.5f}" for a, b in points)
    return d + (" Z" if close else "")


fig = go.Figure()

border = "#A6A6A6"
others = americas_other + europe_other + asia_other + africa_other + oceania_other
x, y = xy(others)
fig.add_trace(go.Scatter(x=x, y=y, mode="lines", fill="toself", fillcolor="white",
                         line=dict(color=border, width=1), hoverinfo="skip"))
for name, rings, color in zip(top20, ranked_shapes, rank_colors):
    x, y = xy(rings)
    fig.add_trace(go.Scatter(x=x, y=y, mode="lines", fill="toself", fillcolor=color, name=name,
                             line=dict(color=border, width=0.8), hoverinfo="name"))
x, y = xy(lakes)
fig.add_trace(go.Scatter(x=x, y=y, mode="lines", fill="toself", fillcolor="#E4E4E4",
                         line=dict(color=border, width=1), hoverinfo="skip"))
fig.add_trace(go.Scatter(x=[p[0] for p in russia_seam], y=[float(merc(p[1])) for p in russia_seam],
                         mode="lines", line=dict(color=border, width=1), hoverinfo="skip"))

text_color = "#333333"
font = "Lato"


def note(px, py, text, size, color=text_color, anchor="center", fam=font):
    fig.add_annotation(x=fx(px), y=fy(py), xref="paper", yref="paper", text=text, showarrow=False,
                       xanchor=anchor, yanchor="middle", font=dict(size=size, color=color, family=fam))


note(938, 85, "<b>Attacks Targeting Canada</b>", 84.5)
note(939, 157, "<b>(August through October 2019)</b>", 38.5)

# table
note(78, 681, "<b>Top 20 Source Countries:</b>", 26.8, anchor="left")
note(80, 730, "<b>Pos</b>", 22.5, color="#CA2233", anchor="left")
note(140, 730, "<b>Country</b>", 22.5, color="#CA2233", anchor="left")
row_y = [761, 793, 824, 855, 886, 918, 949, 980, 1011, 1043]
for i in range(10):
    note(80, row_y[i], str(positions[i]), 22.8, anchor="left")
    note(140, row_y[i], top20[i], 22.8, anchor="left")
    note(322, row_y[i], str(positions[i + 10]), 22.8, anchor="left")
    note(361, row_y[i], top20[i + 10], 22.8, anchor="left")

# rank numbers on the map
label_xy = [(1021, 532), (1388, 406), (1121, 523), (1061, 570), (580, 450), (605, 565), (1559, 580),
            (1031, 486), (1431, 591), (1153, 570), (1052, 505), (1598, 594), (1358, 743), (813, 777),
            (1525, 635), (1334, 643), (1426, 757), (976, 449), (1468, 681), (957, 486)]
white_labels = [1, 2, 5, 6]
for pos, (lx, ly) in zip(positions, label_xy):
    note(lx, ly, str(pos), 22.5, color="white" if pos in white_labels else text_color)

shapes = [
    dict(type="rect", xref="paper", yref="paper", x0=0, x1=1, y0=0, y1=fy(17), fillcolor="#EBEBEB",
         line_width=0, layer="below"),
    dict(type="rect", xref="paper", yref="paper", x0=fx(1345), x1=fx(1372), y0=fy(757), y1=fy(730),
         fillcolor="#F8CDD4", line=dict(color=text_color, width=1.8), layer="below"),
    dict(type="path", xref="paper", yref="paper", path=path([(1378, 745), (1384, 729), (1436, 729)]),
         line=dict(color=text_color, width=1.6)),
    # logo
    dict(type="path", xref="paper", yref="paper",
         path=path([(155, 90), (130.3, 77), (92, 97), (92, 144), (130.3, 165), (168.5, 144), (168.5, 114)]),
         line=dict(color=text_color, width=7)),
    dict(type="path", xref="paper", yref="paper",
         path=path([(185, 63), (207, 75), (207, 101), (185, 114), (163, 101), (163, 75)], close=True),
         line=dict(color=text_color, width=2.4)),
]
note(130, 122, "<b>F5</b>", 43, fam="Inter")
note(185, 89, "LABS", 12.5, fam="Inter")

x_left = -141 - 435 / LON_PX
y_top = float(merc(49)) + (519 - MAP_TOP) / MERC_PX
y_bottom = float(merc(49)) - (H - 519) / MERC_PX

fig.update_layout(
    width=W, height=H, margin=dict(l=0, r=0, t=0, b=0), showlegend=False,
    paper_bgcolor="white", plot_bgcolor="rgba(0,0,0,0)", shapes=shapes,
    xaxis=dict(range=[x_left, x_left + W / LON_PX], visible=False, domain=[0, 1], fixedrange=True),
    yaxis=dict(range=[y_bottom, y_top], visible=False, domain=[0, 1 - MAP_TOP / H], fixedrange=True),
)

page_css = ("document.body.style.margin='0';document.body.style.overflow='hidden';"
            "var s=document.createElement('style');"
            "s.textContent='text{font-variant-ligatures:none !important;}';"
            "document.head.appendChild(s);")
fig.write_html("out.html", config={"displayModeBar": False}, post_script=page_css)
